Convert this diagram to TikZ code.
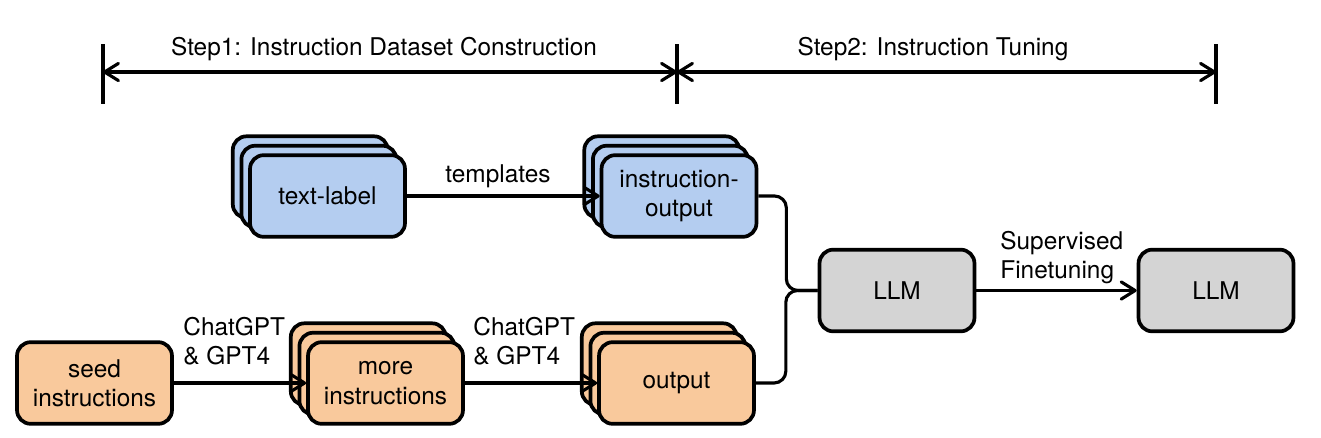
\documentclass[tikz,border=0pt]{standalone}
\usepackage{fontspec}
\setmainfont{TeX Gyre Heros}
\usetikzlibrary{arrows.meta,shadows}

\definecolor{boxblue}{RGB}{180,205,240}
\definecolor{boxorange}{RGB}{249,201,156}
\definecolor{boxgray}{RGB}{212,212,212}

\tikzset{
  barb/.tip={Straight Barb[length=2.5mm,width=3.1mm,round]},
  box/.style={draw, line width=1.9pt, rounded corners=7pt, minimum width=2.79cm,
    minimum height=1.47cm, inner sep=0pt, align=center},
  bluebox/.style={box, fill=boxblue},
  orangebox/.style={box, fill=boxorange},
  graybox/.style={box, fill=boxgray},
  stacked/.style={double copy shadow={shadow xshift=-0.155cm, shadow yshift=0.17cm}},
  flow/.style={line width=1.6pt, -barb},
  lbl/.style={inner sep=0pt, align=left, anchor=north west},
}

\begin{document}
\begin{tikzpicture}[x=0.018cm, y=-0.018cm, font=\fontsize{12.5}{15}\selectfont]

  % Fix the size of the page
  \useasboundingbox (0,0) rectangle (1321,437);

  % Ends of the two steps
  \coordinate (S0) at (103,72);
  \coordinate (S1) at (677,72);
  \coordinate (S2) at (1216,72);

  % Draw the bars and the spans
  \foreach \p in {S0,S1,S2}
    \draw[line width=1.8pt] (\p) +(0,-28) -- +(0,32);
  \draw[line width=1.6pt, barb-barb] (S0) -- (S1);
  \draw[line width=1.6pt, barb-barb] (S1) -- (S2);

  % Step titles
  \node (step1) at (384,49) {Step1: Instruction Dataset Construction};
  \node (step2) at (933,49) {Step2: Instruction Tuning};

  % Upper row
  \node[bluebox, stacked] (tl) at (327.5,196) {text-label};
  \node[bluebox, stacked] (io) at (679,196) {instruction-\\output};

  % Lower row
  \node[orangebox] (seed) at (94.5,383) {seed\\instructions};
  \node[orangebox, stacked] (more) at (385.5,383) {more\\instructions};
  \node[orangebox, stacked] (out) at (676.5,383) {output};

  % The two models
  \node[graybox] (llm) at (897,290.5) {LLM};
  \node[graybox] (tuned) at (1216,290.5) {LLM};

  % Connectors
  \draw[flow] (tl) -- (io);
  \draw[flow] (seed) -- (more);
  \draw[flow] (more) -- (out);
  \draw[flow] (llm) -- (tuned);

  % Join both datasets into the first model
  \draw[line width=1.6pt, rounded corners=6pt] (io.east) -- ++(28,0) |- (llm.west);
  \draw[line width=1.6pt, rounded corners=6pt] (out.east) -- ++(30,0) |- (llm.west);

  % Labels of the connectors
  \node[anchor=base] (tmpl) at (498,182) {templates};
  \node[lbl] (gptA) at (183,317) {ChatGPT\\\& GPT4};
  \node[lbl] (gptB) at (473,317) {ChatGPT\\\& GPT4};
  \node[lbl] (sft) at (1000,231) {Supervised\\Finetuning};

\end{tikzpicture}
\end{document}
